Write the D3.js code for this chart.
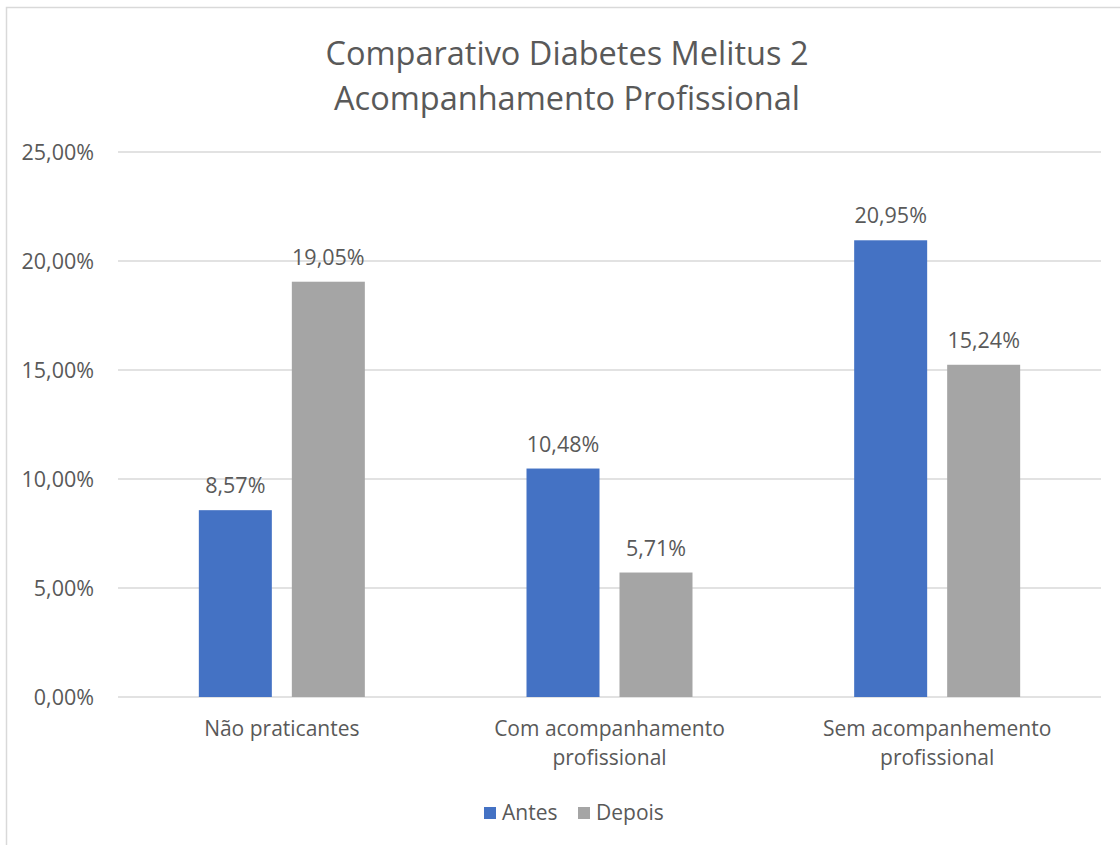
<!DOCTYPE html>
<html><head><meta charset="utf-8">
<script src="https://cdn.jsdelivr.net/npm/d3@7"></script>
<style>body{margin:0;background:#fff}svg{display:block}text{font-family:"Open Sans",sans-serif;fill:#595959}</style>
</head><body>
<script>
const categories = [["Não praticantes"], ["Com acompanhamento", "profissional"], ["Sem acompanhemento", "profissional"]];
const categoryKeys = ["Não praticantes", "Com acompanhamento profissional", "Sem acompanhemento profissional"];
const seriesNames = ["Antes", "Depois"];
const antes = [8.57, 10.48, 20.95];
const depois = [19.05, 5.71, 15.24];
const yTicks = [0, 5, 10, 15, 20, 25];
const colors = ["#4472C4", "#A5A5A5"];
const titleLines = ["Comparativo Diabetes Melitus 2", "Acompanhamento Profissional"];

(function() {
const W = 1120, H = 845;
const svg = d3.select("body").append("svg").attr("width", W).attr("height", H);
svg.append("rect").attr("x", 6.5).attr("y", 7.5).attr("width", W).attr("height", H)
  .attr("fill", "#fff").attr("stroke", "#D9D9D9").attr("stroke-width", 1.5);

const pL = 118, pR = 1101, pT = 152, pB = 697;
const y = d3.scaleLinear().domain([0, 25]).range([pB, pT]);
const x0 = d3.scaleBand().domain(categoryKeys).range([pL, pR]).padding(0);
const bw = x0.bandwidth();
const x1 = d3.scaleBand().domain(seriesNames).range([bw/2 - 83, bw/2 + 83]).paddingInner(0.215).paddingOuter(0);

const fmt = v => v.toFixed(2).replace(".", ",") + "%";
const fs = 21, fsNum = 21.5;

svg.append("g").selectAll("line").data(yTicks).join("line")
  .attr("x1", pL).attr("x2", pR).attr("y1", d => y(d)).attr("y2", d => y(d))
  .attr("stroke", "#D9D9D9").attr("stroke-width", 1.3);

svg.append("g").selectAll("text").data(yTicks).join("text")
  .attr("x", 94).attr("y", d => y(d)).attr("dy", "0.35em").attr("text-anchor", "end")
  .attr("font-size", fsNum).text(fmt);

const data = categoryKeys.map((c, i) => ({c, vals: [antes[i], depois[i]]}));
const groups = svg.append("g").selectAll("g").data(data).join("g")
  .attr("transform", d => `translate(${x0(d.c)},0)`);
groups.selectAll("rect").data(d => d.vals.map((v, j) => ({s: seriesNames[j], v, j}))).join("rect")
  .attr("x", d => x1(d.s)).attr("width", x1.bandwidth())
  .attr("y", d => y(d.v)).attr("height", d => pB - y(d.v))
  .attr("fill", d => colors[d.j]);
groups.selectAll("text.lbl").data(d => d.vals.map((v, j) => ({s: seriesNames[j], v, j}))).join("text")
  .attr("class", "lbl")
  .attr("x", d => x1(d.s) + x1.bandwidth()/2).attr("y", d => y(d.v) - 17)
  .attr("text-anchor", "middle").attr("font-size", fsNum).text(d => fmt(d.v));

svg.append("g").selectAll("text").data(categories).join("text")
  .attr("x", (d, i) => x0(categoryKeys[i]) + bw/2).attr("y", 736)
  .attr("text-anchor", "middle").attr("font-size", fs)
  .selectAll("tspan").data(d => d).join("tspan")
  .attr("x", function() { return this.parentNode.getAttribute("x"); })
  .attr("dy", (d, i) => i === 0 ? 0 : 29).text(d => d);

svg.append("text").attr("x", 567).attr("text-anchor", "middle").attr("font-size", 32.5)
  .selectAll("tspan").data(titleLines).join("tspan")
  .attr("x", 567).attr("y", (d, i) => 65 + i * 45).text(d => d);

const leg = svg.append("g");
const legItems = [{n: "Antes", x: 484}, {n: "Depois", x: 578}];
legItems.forEach((it, i) => {
  leg.append("rect").attr("x", it.x).attr("y", 807).attr("width", 12).attr("height", 12).attr("fill", colors[i]);
  leg.append("text").attr("x", it.x + 18).attr("y", 813).attr("dy", "0.35em").attr("font-size", fs).text(it.n);
});
})();
</script>
</body></html>
